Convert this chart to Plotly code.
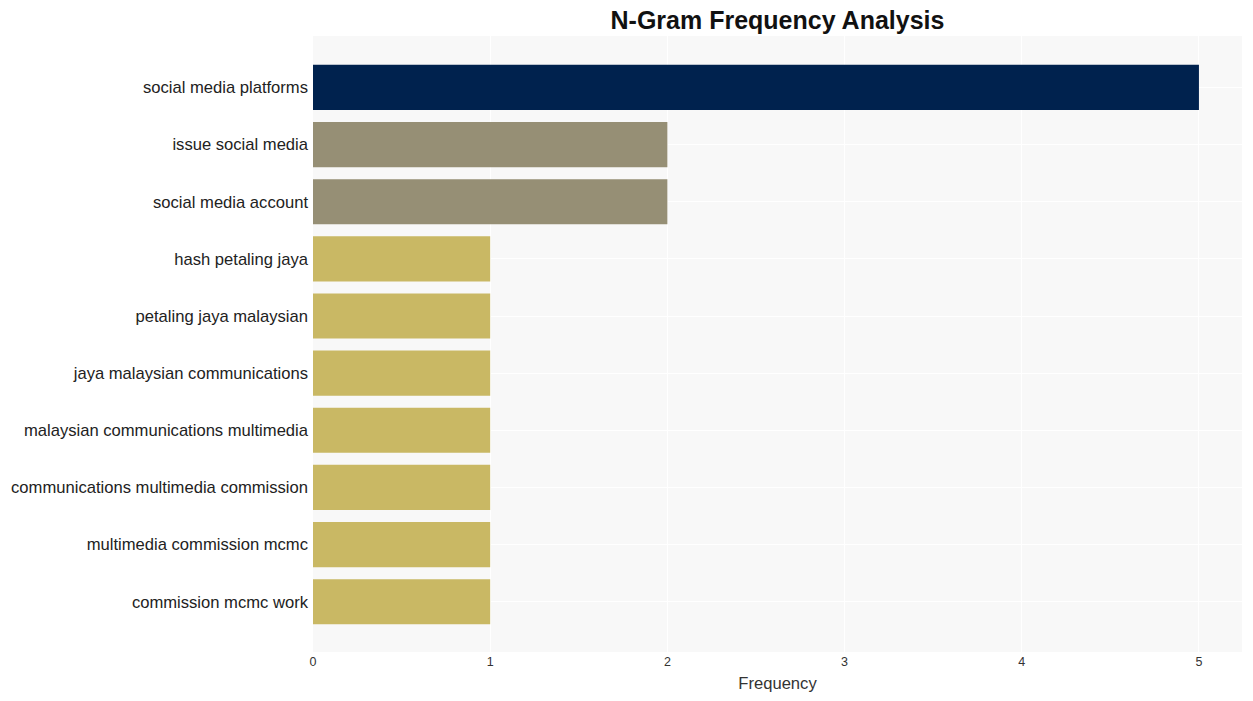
import plotly.graph_objects as go

ngrams = [
    "social media platforms",
    "issue social media",
    "social media account",
    "hash petaling jaya",
    "petaling jaya malaysian",
    "jaya malaysian communications",
    "malaysian communications multimedia",
    "communications multimedia commission",
    "multimedia commission mcmc",
    "commission mcmc work",
]
counts = [5, 2, 2, 1, 1, 1, 1, 1, 1, 1]
color_for_count = {5: "#00224e", 2: "#968f75", 1: "#c9b864"}
colors = [color_for_count[c] for c in counts]

W, H = 1237, 685

fig = go.Figure(
    go.Bar(
        x=counts,
        y=ngrams,
        orientation="h",
        marker=dict(color=colors, line=dict(width=0)),
        width=0.79,
    )
)

fig.update_layout(
    width=W,
    height=H,
    margin=dict(l=305, r=3, t=28, b=41),
    paper_bgcolor="white",
    plot_bgcolor="#f8f8f8",
    font=dict(family="Liberation Sans, Arial, sans-serif", color="#222"),
    title=dict(
        text="<b>N-Gram Frequency Analysis</b>",
        x=0.5,
        xref="paper",
        xanchor="center",
        y=1 - 12 / H,
        yanchor="middle",
        yref="container",
        font=dict(size=25, color="#111"),
    ),
    showlegend=False,
    bargap=0.21,
)

fig.update_xaxes(
    range=[0, 5.243],
    tickvals=[0, 1, 2, 3, 4, 5],
    showgrid=True,
    gridcolor="white",
    gridwidth=1,
    zeroline=False,
    tickfont=dict(size=12.5, color="#333"),
    title=dict(text="Frequency", font=dict(size=16.6, color="#333"), standoff=10),
)

fig.update_yaxes(
    categoryorder="array",
    categoryarray=ngrams,
    range=[9.88, -0.9],
    showgrid=True,
    gridcolor="white",
    gridwidth=1,
    tickfont=dict(size=16.6, color="#222"),
    ticks="",
    ticklabelstandoff=4,
)

fig.write_html("out.html")
